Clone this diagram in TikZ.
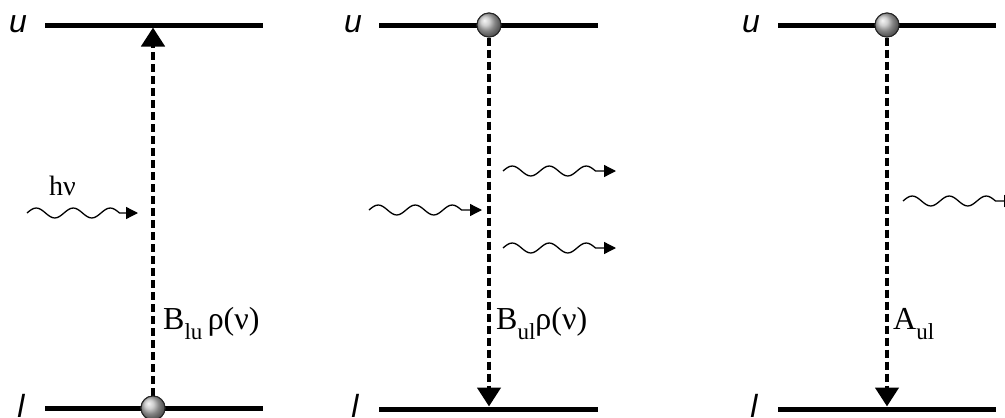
\documentclass[tikz,border=0pt]{standalone}
\usepackage{fontspec}
\setmainfont{Liberation Serif}
\newfontfamily\lsans{Liberation Sans}
\usetikzlibrary{arrows.meta,shadings}
\newcommand\lowsub[1]{\raisebox{-10pt}{\fontsize{23}{23}\selectfont #1}}
\newcommand\wavyseg{sin ++(9.25,-5) cos ++(9.25,5) sin ++(9.25,5) cos ++(9.25,-5)}
\tikzset{
  level/.style={line width=5pt},
  trans/.style={line width=4.5pt, dash pattern=on 8pt off 4pt, -{Triangle[length=19pt,width=23pt]}},
  ball/.style={circle, minimum size=24pt, inner sep=0pt, shading=ball, ball color=gray!50, draw=black!85, line width=1pt},
  lvllab/.style={font=\lsans\itshape\fontsize{32}{32}\selectfont, anchor=base, inner sep=0pt},
  rate/.style={font=\fontsize{32}{32}\selectfont, anchor=base west, inner sep=0pt},
  photon/.style={line width=1.3pt, -{Triangle[length=12pt,width=12pt]}}
}
\begin{document}
\begin{tikzpicture}[x=1pt,y=-1pt]
\useasboundingbox (0,0) rectangle (1005,418);
\clip (0,0) rectangle (1005,418);
% panel 1
\draw[level] (45,25) coordinate (u1a) -- (263,25) coordinate (u1b);
\draw[level] (45,408) coordinate (l1a) -- (263,408) coordinate (l1b);
\node[lvllab] (ul1) at (18,32) {u};
\node[lvllab] (ll1) at (21,417) {l};
\coordinate (t1) at (153,27.5);
\node[ball] (b1) at (153,408) {};
\draw[trans] (b1.north) -- (t1);
\node[ball] at (153,408) {};
\coordinate (w1) at (27,213);
\coordinate (w1e) at (138,213);
\draw[photon] (w1) \wavyseg\space \wavyseg\space sin ++(9.25,-5) cos ++(9.25,5) -- (w1e);
\node[rate] (hv) at (49,195) {\fontsize{28}{28}\selectfont hν};
\node[rate] (r1) at (163,329) {B\lowsub{lu}\,ρ(ν)};
% panel 2
\draw[level] (379,25) coordinate (u2a) -- (598,25) coordinate (u2b);
\draw[level] (379,409) coordinate (l2a) -- (598,409) coordinate (l2b);
\node[lvllab] (ul2) at (353,32) {u};
\node[lvllab] (ll2) at (355,417) {l};
\node[ball] (b2) at (489,25) {};
\coordinate (t2) at (489,406.5);
\draw[trans] (b2.south) -- (t2);
\node[ball] at (489,25) {};
\coordinate (w2) at (369,210);
\coordinate (w2e) at (482,210);
\draw[photon] (w2) \wavyseg\space \wavyseg\space sin ++(9.25,-5) cos ++(9.25,5) -- (w2e);
\coordinate (w3) at (503,171);
\coordinate (w3e) at (616,171);
\draw[photon] (w3) \wavyseg\space \wavyseg\space sin ++(9.25,-5) cos ++(9.25,5) -- (w3e);
\coordinate (w4) at (503,248);
\coordinate (w4e) at (616,248);
\draw[photon] (w4) \wavyseg\space \wavyseg\space sin ++(9.25,-5) cos ++(9.25,5) -- (w4e);
\node[rate] (r2) at (496,329) {B\lowsub{ul}ρ(ν)};
% panel 3
\draw[level] (778,25) coordinate (u3a) -- (996,25) coordinate (u3b);
\draw[level] (778,409) coordinate (l3a) -- (996,409) coordinate (l3b);
\node[lvllab] (ul3) at (751,32) {u};
\node[lvllab] (ll3) at (754,417) {l};
\node[ball] (b3) at (887,25) {};
\coordinate (t3) at (887,406.5);
\draw[trans] (b3.south) -- (t3);
\node[ball] at (887,25) {};
\coordinate (w5) at (903,201);
\coordinate (w5e) at (1016,201);
\draw[photon] (w5) \wavyseg\space \wavyseg\space sin ++(9.25,-5) cos ++(9.25,5) -- (w5e);
\node[rate] (r3) at (893,329) {A\lowsub{ul}};
\end{tikzpicture}
\end{document}
